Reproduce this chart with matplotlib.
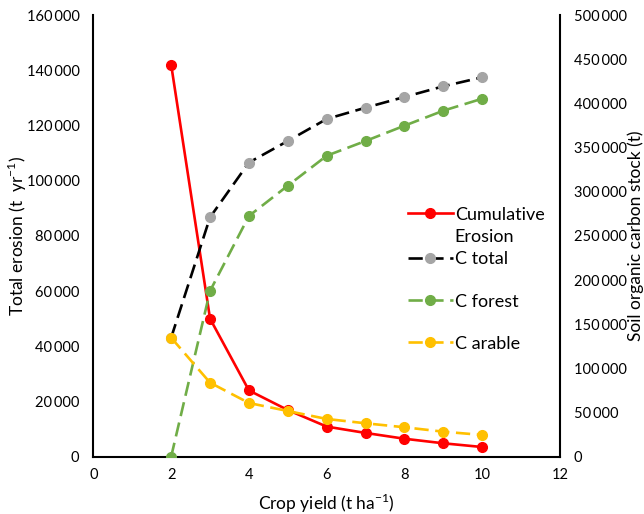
import numpy as np
import matplotlib
matplotlib.use('Agg')
import matplotlib.pyplot as plt
from matplotlib.ticker import FuncFormatter

plt.rcParams['font.family'] = ['Lato', 'DejaVu Sans']
plt.rcParams['mathtext.fontset'] = 'custom'
plt.rcParams['mathtext.rm'] = 'Lato'

# data
crop_yield = [2, 3, 4, 5, 6, 7, 8, 9, 10]
erosion = [142000, 50000, 24000, 16900, 10900, 8600, 6500, 4850, 3500]
c_total = [134700, 271000, 333000, 357400, 382300, 395100, 407200, 419300, 429500]
c_forest = [0, 187600, 272500, 306800, 340700, 357400, 374700, 391700, 405300]
c_arable = [134700, 83800, 60800, 51700, 42700, 37800, 33300, 28300, 24600]

x_ticks = [0, 2, 4, 6, 8, 10, 12]
left_ticks = np.arange(0, 160001, 20000)
right_ticks = np.arange(0, 500001, 50000)


def thin_sep(v, pos):
    return '{:,}'.format(int(v)).replace(',', '\u2009')


fig = plt.figure(figsize=(6.44, 5.14), dpi=100)
ax = fig.add_axes([0.145, 0.1115, 0.7246, 0.8593])
ax2 = ax.twinx()

lw = 1.9
ms = 7
dash = (5.4, 2.5)

l1, = ax.plot(crop_yield, erosion, color='#FF0000', lw=lw, marker='o', ms=ms,
              label='Cumulative\nErosion', zorder=3)
l2, = ax2.plot(crop_yield, c_total, color='black', lw=lw, dashes=dash, marker='o', ms=ms,
               mfc='#A5A5A5', mec='#A5A5A5', label='C total')
l3, = ax2.plot(crop_yield, c_forest, color='#70AD47', lw=lw, dashes=dash, marker='o', ms=ms,
               label='C forest')
l4, = ax2.plot(crop_yield, c_arable, color='#FFC000', lw=lw, dashes=dash, marker='o', ms=ms,
               label='C arable')

ax.set_xlim(0, 12)
ax.set_ylim(0, 160000)
ax2.set_ylim(0, 500000)
ax.set_xticks(x_ticks)
ax.set_yticks(left_ticks)
ax2.set_yticks(right_ticks)
ax.yaxis.set_major_formatter(FuncFormatter(thin_sep))
ax2.yaxis.set_major_formatter(FuncFormatter(thin_sep))

for a in (ax, ax2):
    a.tick_params(axis='y', length=0, labelsize=10.5, pad=10)
    a.tick_params(axis='x', length=0, labelsize=10.5, pad=8)
    a.spines['top'].set_visible(False)
    for s in a.spines.values():
        s.set_linewidth(1.5)
ax.spines['right'].set_visible(False)
ax2.spines['left'].set_visible(False)
ax2.spines['bottom'].set_visible(False)

ax.set_xlabel('Crop yield (t ha$^{-1}$)', fontsize=12.5)
ax.xaxis.set_label_coords(0.5, -0.08)
ax.set_ylabel('Total erosion (t  yr$^{-1}$)', fontsize=12.5)
ax.yaxis.set_label_coords(-0.139, 0.5)
ax2.set_ylabel('Soil organic carbon stock (t)', fontsize=12.5, rotation=90)
ax2.yaxis.set_label_coords(1.1436, 0.5)

leg_kw = dict(loc='upper left', bbox_transform=ax.transAxes, frameon=False, fontsize=13,
              handlelength=2.5, handletextpad=0.1)
leg1 = ax2.legend(handles=[l1], bbox_to_anchor=(0.639, 0.6025), **leg_kw)
leg1.get_texts()[0].set_linespacing(1.45)
# keep the handle level with the first line of its label
leg1._legend_handle_box.get_children()[0].get_children()[0].align = 'top'
ax2.add_artist(leg1)

leg2 = ax2.legend(handles=[l2, l3, l4], bbox_to_anchor=(0.639, 0.5015),
                  labelspacing=1.45, **leg_kw)

fig.savefig('out.png', dpi=100)
